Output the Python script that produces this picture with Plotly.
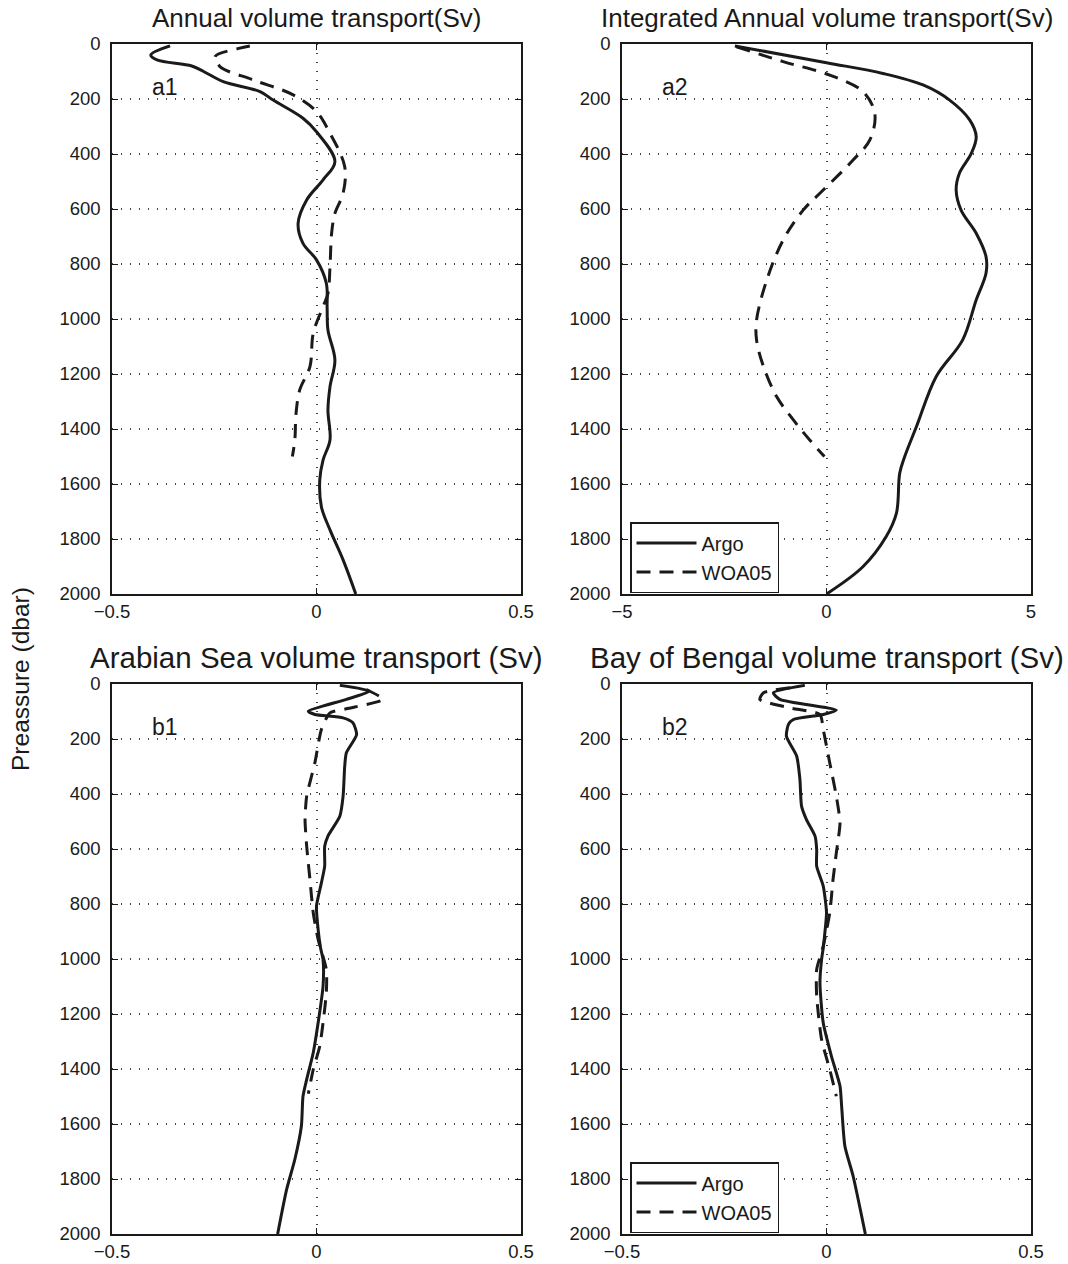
import plotly.graph_objects as go

# ---------------- data ----------------
a1_argo_p = [7, 40, 58, 80, 100, 137, 173, 204, 270, 319, 428, 494, 567, 652, 725, 785, 870, 960,
             1040, 1149, 1246, 1331, 1440, 1513, 1585, 1683, 1767, 1876, 2000]
a1_argo_x = [-0.358, -0.405, -0.39, -0.305, -0.276, -0.228, -0.138, -0.106, -0.033, 0.0, 0.045, 0.016,
             -0.024, -0.045, -0.033, 0.0, 0.024, 0.026, 0.028, 0.045, 0.033, 0.028, 0.033, 0.016, 0.008,
             0.012, 0.033, 0.065, 0.096]
a1_woa_p = [7, 16, 46, 82, 131, 185, 246, 325, 446, 543, 616, 688, 810, 907, 955, 1052, 1173, 1258,
            1343, 1440, 1500]
a1_woa_x = [-0.163, -0.19, -0.248, -0.236, -0.154, -0.057, 0.0, 0.033, 0.069, 0.065, 0.045, 0.037,
            0.033, 0.028, 0.016, -0.008, -0.016, -0.041, -0.05, -0.053, -0.059]

a2_argo_p = [7, 68, 107, 149, 204, 276, 337, 398, 470, 531, 604, 688, 773, 834, 931, 1076, 1210,
             1391, 1501, 1561, 1706, 1791, 1901, 2000]
a2_argo_x = [-2.24, 0.0, 1.38, 2.36, 3.01, 3.5, 3.66, 3.54, 3.25, 3.17, 3.29, 3.66, 3.9, 3.9, 3.66,
             3.33, 2.68, 2.2, 1.91, 1.79, 1.71, 1.46, 0.89, 0.0]
a2_woa_p = [10, 64, 113, 173, 252, 349, 422, 531, 604, 713, 858, 1004, 1076, 1173, 1282, 1367, 1440, 1500]
a2_woa_x = [-2.2, -1.06, 0.08, 0.89, 1.18, 1.06, 0.65, -0.08, -0.57, -1.06, -1.46, -1.71, -1.71,
            -1.54, -1.22, -0.81, -0.41, -0.05]

b1_argo_p = [5, 26, 56, 99, 111, 123, 141, 184, 250, 299, 408, 481, 553, 590, 662, 723, 808, 893,
             960, 1002, 1099, 1232, 1341, 1438, 1499, 1608, 1729, 1838, 2000]
b1_argo_x = [0.057, 0.13, 0.073, -0.02, -0.004, 0.065, 0.089, 0.098, 0.073, 0.069, 0.065, 0.057,
             0.028, 0.02, 0.02, 0.012, 0.0, 0.004, 0.01, 0.016, 0.016, 0.004, -0.008, -0.024, -0.033,
             -0.037, -0.053, -0.073, -0.095]
b1_woa_p = [20, 56, 90, 105, 165, 287, 408, 493, 590, 711, 832, 929, 1038, 1123, 1232, 1317, 1402, 1490]
b1_woa_x = [0.122, 0.163, 0.073, 0.033, 0.012, -0.004, -0.024, -0.028, -0.024, -0.016, -0.008,
            0.004, 0.024, 0.024, 0.016, 0.008, -0.008, -0.02]

b2_argo_p = [5, 32, 56, 95, 111, 129, 147, 190, 262, 347, 444, 493, 553, 602, 663, 735, 832, 905,
             960, 1002, 1087, 1232, 1353, 1462, 1535, 1681, 1789, 2000]
b2_argo_x = [-0.053, -0.13, -0.114, 0.024, -0.008, -0.081, -0.093, -0.098, -0.073, -0.065, -0.061,
             -0.049, -0.028, -0.024, -0.024, -0.008, 0.0, -0.004, -0.008, -0.012, -0.016, -0.008,
             0.012, 0.033, 0.037, 0.045, 0.065, 0.095]
b2_woa_p = [14, 32, 56, 87, 111, 165, 287, 408, 505, 614, 711, 832, 953, 1038, 1135, 1293, 1402, 1499]
b2_woa_x = [-0.089, -0.154, -0.163, -0.089, -0.016, -0.008, 0.008, 0.024, 0.033, 0.024, 0.016,
            0.008, -0.008, -0.024, -0.024, -0.012, 0.008, 0.024]

titles = ["Annual volume transport(Sv)", "Integrated Annual volume transport(Sv)",
          "Arabian Sea volume transport (Sv)", "Bay of Bengal volume transport (Sv)"]
panel_labels = ["a1", "a2", "b1", "b2"]
series_names = ["Argo", "WOA05"]
y_ticks = list(range(0, 2001, 200))
x_ticks_small = [-0.5, 0, 0.5]
x_ticks_big = [-5, 0, 5]

# ---------------- layout helpers ----------------
W, H = 1068, 1264
FONT = "Liberation Sans, Arial, Helvetica, sans-serif"
INK = "#1a1a1a"

def px_x(v):
    return v / W

def px_y(v):
    return 1 - v / H

def fmt(v):
    s = f"{v:g}"
    return s.replace("-", "\u2212")

panels = [
    dict(xd=(112, 521), yd=(44, 594), xr=[-0.5, 0.5], xt=x_ticks_small,
         argo=(a1_argo_x, a1_argo_p), woa=(a1_woa_x, a1_woa_p), legend=None, tfs=26, sm=1.0),
    dict(xd=(622, 1031), yd=(44, 594), xr=[-5, 5], xt=x_ticks_big,
         argo=(a2_argo_x, a2_argo_p), woa=(a2_woa_x, a2_woa_p), legend="legend", tfs=26, sm=1.0),
    dict(xd=(112, 521), yd=(684, 1234), xr=[-0.5, 0.5], xt=x_ticks_small,
         argo=(b1_argo_x, b1_argo_p), woa=(b1_woa_x, b1_woa_p), legend=None, tfs=29.5, sm=0.6),
    dict(xd=(622, 1031), yd=(684, 1234), xr=[-0.5, 0.5], xt=x_ticks_small,
         argo=(b2_argo_x, b2_argo_p), woa=(b2_woa_x, b2_woa_p), legend="legend2", tfs=29.5, sm=0.6),
]

fig = go.Figure()
annotations = []

for i, pn in enumerate(panels):
    k = "" if i == 0 else str(i + 1)
    xa, ya = "x" + k, "y" + k
    for name, (xs, ps), dash in [(series_names[0], pn["argo"], "solid"),
                                 (series_names[1], pn["woa"], "14px,9px")]:
        tr = dict(x=xs, y=ps, mode="lines", name=name, xaxis=xa, yaxis=ya,
                  line=dict(color=INK, width=3, dash=dash, shape="spline", smoothing=pn["sm"]),
                  showlegend=pn["legend"] is not None, hoverinfo="skip")
        if pn["legend"]:
            tr["legend"] = pn["legend"]
        fig.add_trace(go.Scatter(**tr))

    axcommon = dict(showline=True, linecolor=INK, linewidth=1.5, mirror="ticks",
                    ticks="inside", ticklen=6, tickcolor=INK, tickwidth=1,
                    showgrid=True, gridcolor="#444444", griddash="1px,8px", gridwidth=1.5,
                    zeroline=False, automargin=False,
                    tickfont=dict(family=FONT, size=18.5, color=INK))
    fig.layout["xaxis" + k] = dict(
        domain=[px_x(pn["xd"][0]), px_x(pn["xd"][1])], range=pn["xr"],
        tickvals=pn["xt"], ticktext=[fmt(v) for v in pn["xt"]],
        anchor=ya, **axcommon)
    fig.layout["yaxis" + k] = dict(
        domain=[px_y(pn["yd"][1]), px_y(pn["yd"][0])], range=[2000, 0],
        tickvals=y_ticks, anchor=xa, ticklabelstandoff=6, **axcommon)

    cx = (pn["xd"][0] + pn["xd"][1]) / 2
    ty = pn["yd"][0] - 26 if i < 2 else pn["yd"][0] - 27
    annotations.append(dict(text=titles[i], x=px_x(cx), y=px_y(ty), xref="paper", yref="paper",
                            showarrow=False, xanchor="center", yanchor="middle",
                            font=dict(family=FONT, size=pn["tfs"], color=INK)))
    annotations.append(dict(text=panel_labels[i], x=px_x(pn["xd"][0] + 38), y=px_y(pn["yd"][0] + 43),
                            xref="paper", yref="paper", showarrow=False, xanchor="left",
                            yanchor="middle", font=dict(family=FONT, size=23, color=INK)))

annotations.append(dict(text="Preassure (dbar)", x=px_x(20), y=px_y(679), xref="paper", yref="paper",
                        showarrow=False, textangle=-90, xanchor="center", yanchor="middle",
                        font=dict(family=FONT, size=24.5, color=INK)))

legend_style = dict(xanchor="left", yanchor="top", bgcolor="white", bordercolor=INK,
                    borderwidth=1.5, font=dict(family=FONT, size=20, color=INK),
                    tracegroupgap=0, itemwidth=60)

fig.update_layout(
    width=W, height=H, margin=dict(l=0, r=0, t=0, b=0, autoexpand=False),
    paper_bgcolor="white", plot_bgcolor="white",
    annotations=annotations,
    legend=dict(x=px_x(630), y=px_y(522), **legend_style),
    legend2=dict(x=px_x(630), y=px_y(1162), **legend_style),
    showlegend=True,
)

fig.write_html("out.html")
